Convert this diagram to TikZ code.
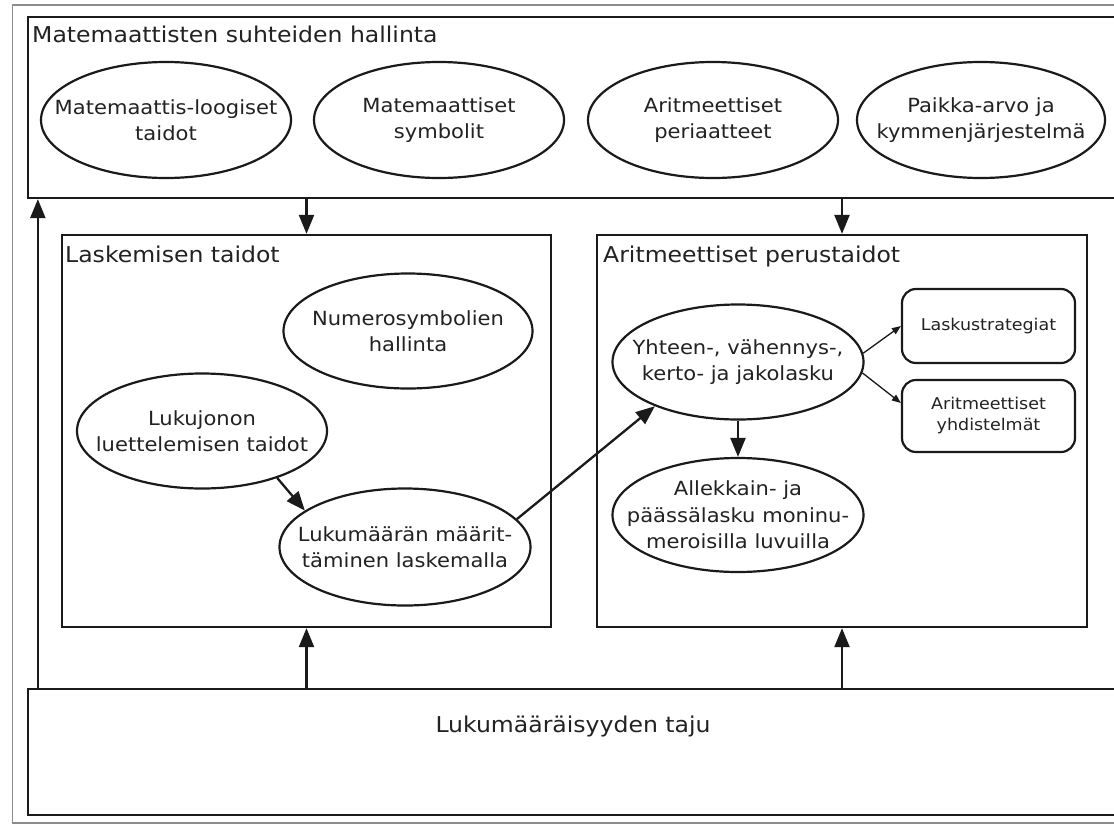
\documentclass[tikz,border=0pt]{standalone}
\usepackage{fontspec}
\setmainfont[FakeStretch=1.08]{DejaVu Sans}
\usetikzlibrary{arrows.meta,shapes.geometric}
\definecolor{ink}{HTML}{1A1A1A}
\definecolor{txt}{HTML}{222222}
\definecolor{framegray}{HTML}{8C8C8C}
\tikzset{
  bigbox/.style={draw=ink, line width=2.3pt, rectangle, inner sep=0pt},
  oval/.style={ellipse, draw=ink, line width=2.2pt, inner xsep=-70pt, inner ysep=-30pt,
    minimum width=250pt, minimum height=115pt, align=center, text=txt,
    font=\fontsize{19.5}{26.5}\selectfont},
  rbox/.style={rectangle, rounded corners=14pt, draw=ink, line width=2.2pt,
    minimum width=173pt, align=center, text=txt,
    font=\fontsize{16.2}{21}\selectfont},
  boxtitle/.style={anchor=base west, inner sep=0pt, text=txt,
    font=\fontsize{21.8}{26}\selectfont},
  arr/.style={draw=ink, line width=2.3pt, -{Triangle[length=19pt,width=15pt]}},
  thinarr/.style={draw=ink, line width=1.3pt, -{Triangle[length=9pt,width=7pt]}}
}
\begin{document}
\begin{tikzpicture}[x=1pt,y=-1pt]
\useasboundingbox (0,0) rectangle (1114,825);
\fill[white] (0,0) rectangle (1114,825);
\clip (0,0) rectangle (1114,825);
% outer frame
\draw[framegray, line width=1.2pt] (1130,5) -- (12.5,5) -- (12.5,823) -- (1130,823);
% containers
\node[bigbox, minimum width=1102pt, minimum height=181pt] (top) at (579,107.5) {};
\node[bigbox, minimum width=489pt, minimum height=392pt] (lask) at (306.5,431) {};
\node[bigbox, minimum width=490pt, minimum height=392pt] (arit) at (842,431) {};
\node[bigbox, minimum width=1102pt, minimum height=126pt] (bot) at (579,752) {};
% titles
\node[boxtitle] (ttop) at (32,42) {Matemaattisten suhteiden hallinta};
\node[boxtitle] (tlask) at (65,262) {Laskemisen taidot};
\node[boxtitle] (tarit) at (603,262) {Aritmeettiset perustaidot};
\node[anchor=base, inner sep=0pt, text=txt, font=\fontsize{21.8}{26}\selectfont] (tbot) at (573,732) {Lukumääräisyyden taju};
% top ellipses
\node[oval, minimum height=116pt] (e1) at (166,120) {Matemaattis-loogiset\\taidot};
\node[oval, minimum height=116pt] (e2) at (439,120) {Matemaattiset\\symbolit};
\node[oval, minimum height=116pt] (e3) at (713,120) {Aritmeettiset\\periaatteet};
\node[oval, minimum height=116pt, minimum width=248pt] (e4) at (981,120) {Paikka-arvo ja\\kymmenjärjestelmä};
% Laskemisen taidot
\node[oval, minimum width=249pt] (num) at (408,331) {Numerosymbolien\\hallinta};
\node[oval] (luku) at (202,431) {Lukujonon\\luettelemisen taidot};
\node[oval, minimum width=251pt, minimum height=117pt] (lkm) at (405,547) {Lukumäärän määrit-\\täminen laskemalla};
% Aritmeettiset perustaidot
\node[oval, minimum width=251pt] (yht) at (738,362) {Yhteen-, vähennys-,\\kerto- ja jakolasku};
\node[oval, minimum width=251pt, minimum height=114pt] (all) at (738,515) {Allekkain- ja\\päässälasku moninu-\\meroisilla luvuilla};
\node[rbox, minimum height=74pt] (r1) at (988.5,326) {Laskustrategiat};
\node[rbox, minimum height=72pt] (r2) at (988.5,416) {Aritmeettiset\\yhdistelmät};
% connectors
\draw[arr] (top.south -| lask.north) -- (lask.north);
\draw[arr] (top.south -| arit.north) -- (arit.north);
\draw[arr] (bot.north -| lask.south) -- (lask.south);
\draw[arr] (bot.north -| arit.south) -- (arit.south);
\draw[arr] ([xshift=11pt]bot.north west) -- ([xshift=11pt]top.south west);
\draw[arr] (luku.-32) -- (lkm.160);
\draw[arr] (lkm.14) -- (yht.208);
\draw[arr] (yht.south) -- (all.north);
\draw[thinarr] (yht.4) -- (r1.west);
\draw[thinarr] (yht.-5) -- ([yshift=13pt]r2.west);
\end{tikzpicture}
\end{document}
